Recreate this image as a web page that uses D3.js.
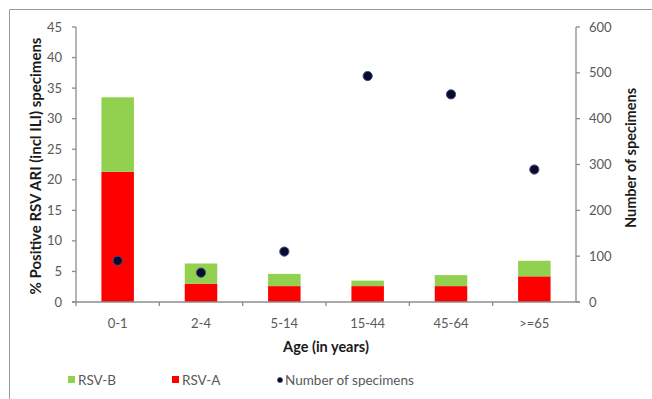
<!DOCTYPE html>
<html><head><meta charset="utf-8">
<script src="https://cdn.jsdelivr.net/npm/d3@7"></script>
<style>body{margin:0;background:#fff}svg{display:block}text{font-family:Lato,"Liberation Sans",sans-serif}</style>
</head><body><svg id="c" width="652" height="399"></svg>
<script>
const categories = ["0-1","2-4","5-14","15-44","45-64",">=65"];
const rsvA = [21.3, 3.0, 2.6, 2.6, 2.6, 4.2];
const rsvB = [12.2, 3.3, 2.0, 0.9, 1.8, 2.55];
const specimens = [90, 64, 110, 493, 453, 289];
const leftTicks = [0,5,10,15,20,25,30,35,40,45];
const rightTicks = [0,100,200,300,400,500,600];

(function(){
const svg = d3.select("#c");
const pL = 76, pR = 576, pT = 27, pB = 302;
const x = d3.scaleBand().domain(categories).range([pL, pR]).paddingInner(0.61).paddingOuter(0.305);
const xb = d3.scaleBand().domain(categories).range([pL, pR]);
const yL = d3.scaleLinear().domain([0,45]).range([pB, pT]);
const yR = d3.scaleLinear().domain([0,600]).range([pB, pT]);
const axisCol = "#8c8c8c", textCol = "#595959";

// frame
svg.append("line").attr("x1",9.5).attr("x2",652).attr("y1",9.5).attr("y2",9.5).attr("stroke","#9a9a9a");
svg.append("line").attr("x1",9.5).attr("x2",9.5).attr("y1",9.5).attr("y2",399).attr("stroke","#9a9a9a");

// bars
const g = svg.append("g");
categories.forEach((c,i)=>{
  g.append("rect").attr("x",x(c)).attr("width",x.bandwidth())
    .attr("y",yL(rsvA[i])).attr("height",yL(0)-yL(rsvA[i])).attr("fill","#ff0000");
  g.append("rect").attr("x",x(c)).attr("width",x.bandwidth())
    .attr("y",yL(rsvA[i]+rsvB[i])).attr("height",yL(rsvA[i])-yL(rsvA[i]+rsvB[i])).attr("fill","#92d050");
});

// axes
const ga = svg.append("g").attr("stroke",axisCol).attr("stroke-width",1.3).attr("fill","none");
ga.append("line").attr("x1",pL).attr("x2",pL).attr("y1",pT).attr("y2",pB);
ga.append("line").attr("x1",pR).attr("x2",pR).attr("y1",pT).attr("y2",pB);
ga.append("line").attr("x1",pL-4).attr("x2",pR+4).attr("y1",pB).attr("y2",pB);
leftTicks.forEach(t=>ga.append("line").attr("x1",pL-4).attr("x2",pL).attr("y1",yL(t)).attr("y2",yL(t)));
rightTicks.forEach(t=>ga.append("line").attr("x1",pR).attr("x2",pR+4).attr("y1",yR(t)).attr("y2",yR(t)));
categories.forEach(c=>ga.append("line").attr("x1",xb(c)).attr("x2",xb(c)).attr("y1",pB).attr("y2",pB+4));

const tl = svg.append("g").attr("fill",textCol).attr("font-size",13);
leftTicks.forEach(t=>tl.append("text").attr("x",62).attr("y",yL(t)).attr("dy","0.35em").attr("text-anchor","end").text(t));
rightTicks.forEach(t=>tl.append("text").attr("x",589).attr("y",yR(t)).attr("dy","0.35em").attr("text-anchor","start").text(t));
categories.forEach(c=>tl.append("text").attr("x",xb(c)+xb.bandwidth()/2).attr("y",323).attr("dy","0.35em").attr("text-anchor","middle").text(c));

// dots
specimens.forEach((v,i)=>{
  svg.append("circle").attr("cx",x(categories[i])+x.bandwidth()/2).attr("cy",yR(v)).attr("r",4.6)
    .attr("fill","#0a0a2a").attr("stroke","#3b4f8f").attr("stroke-width",1);
});

// titles
const tt = svg.append("g").attr("fill","#1a1a1a").attr("font-weight","bold").attr("font-size",14.5);
tt.append("text").attr("x",326).attr("y",347).attr("dy","0.35em").attr("text-anchor","middle").text("Age (in years)");
tt.append("text").attr("transform","translate(36,166) rotate(-90)").attr("dy","0.35em").attr("text-anchor","middle").attr("font-size",15).text("% Positive RSV ARI (incl ILI) specimens");
tt.append("text").attr("transform","translate(631,158) rotate(-90)").attr("dy","0.35em").attr("text-anchor","middle").text("Number of specimens");

// legend
const lg = svg.append("g").attr("font-size",13.5).attr("fill",textCol);
lg.append("rect").attr("x",68).attr("y",376).attr("width",7).attr("height",7).attr("fill","#92d050");
lg.append("text").attr("x",78).attr("y",380).attr("dy","0.35em").text("RSV-B");
lg.append("rect").attr("x",172).attr("y",376).attr("width",7).attr("height",7).attr("fill","#ff0000");
lg.append("text").attr("x",182).attr("y",380).attr("dy","0.35em").text("RSV-A");
lg.append("circle").attr("cx",280).attr("cy",380).attr("r",2.6).attr("fill","#0a0a2a").attr("stroke","#3b4f8f").attr("stroke-width",0.6);
lg.append("text").attr("x",285).attr("y",380).attr("dy","0.35em").text("Number of specimens");
})();
</script></body></html>
